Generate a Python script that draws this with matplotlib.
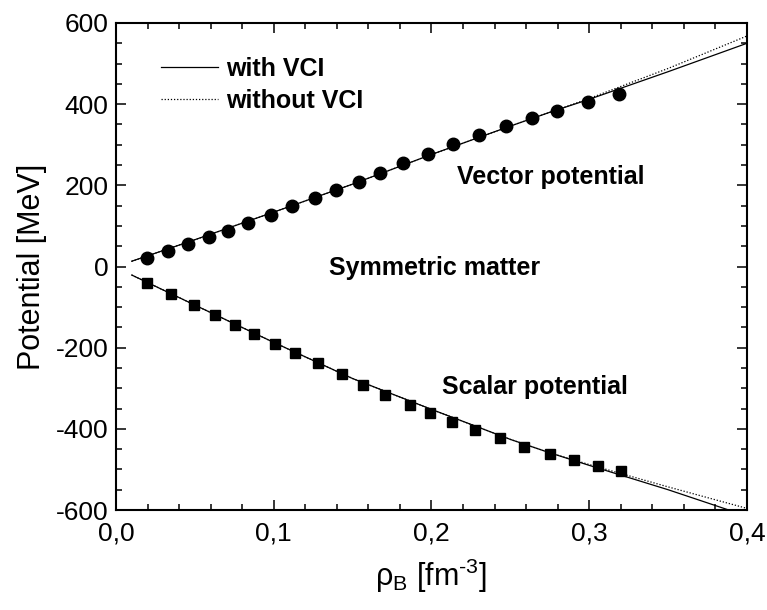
import matplotlib
matplotlib.use('Agg')
import matplotlib.pyplot as plt
from matplotlib.ticker import MultipleLocator, FuncFormatter

plt.rcParams['font.family'] = ['Liberation Sans', 'DejaVu Sans']
plt.rcParams['mathtext.fontset'] = 'custom'
plt.rcParams['mathtext.rm'] = 'Liberation Sans'
plt.rcParams['mathtext.it'] = 'Liberation Sans'
plt.rcParams['mathtext.default'] = 'regular'
plt.rcParams['axes.unicode_minus'] = False

# Data
# Dirac-Brueckner points
rho_vec = [0.0197, 0.033, 0.0457, 0.059, 0.071, 0.0837, 0.098, 0.1116, 0.126, 0.1395,
           0.154, 0.1674, 0.182, 0.198, 0.2137, 0.230, 0.247, 0.264, 0.2797, 0.299, 0.319]
vec_pts = [21, 38, 55, 73, 87, 107, 127, 149, 169, 188,
           208, 230, 255, 277, 302, 324, 346, 366, 383, 405, 425]

rho_sca = [0.0197, 0.0349, 0.0495, 0.0628, 0.0755, 0.0875, 0.1008, 0.1135, 0.128, 0.1433, 0.1566,
           0.1706, 0.1864, 0.199, 0.213, 0.2276, 0.2435, 0.2587, 0.2752, 0.2904, 0.3056, 0.320]
sca_pts = [-41, -68, -95, -120, -144, -166, -191, -213, -238, -265, -292,
           -316, -341, -361, -383, -403, -422, -445, -462, -476, -491, -504]

# model curves
rho_line = [0.01, 0.05, 0.1, 0.15, 0.2, 0.25, 0.275, 0.3, 0.35, 0.4]
vec_vci = [13, 66, 134, 203, 276, 346, 380, 412, 480, 550]
vec_novci = [13, 66, 134, 203, 276, 346, 380, 414, 488, 568]
sca_vci = [-21, -95, -187, -276, -352, -426, -459, -490, -550, -615]
sca_novci = [-21, -95, -187, -276, -352, -426, -459, -488, -543, -596]

fig = plt.figure(figsize=(7.67, 6.10), dpi=100)
ax = fig.add_axes([0.1512, 0.1639, 0.8227, 0.7984])

l1, = ax.plot(rho_line, vec_vci, color='black', lw=0.9, label='with VCI')
l2, = ax.plot(rho_line, vec_novci, color='black', lw=0.9, ls=(0, (1, 1.5)), label='without VCI')
ax.plot(rho_line, sca_vci, color='black', lw=0.9)
ax.plot(rho_line, sca_novci, color='black', lw=0.9, ls=(0, (1, 1.5)))

ax.plot(rho_vec, vec_pts, 'o', color='black', ms=9, ls='none')
ax.plot(rho_sca, sca_pts, 's', color='black', ms=7.6, ls='none')

ax.text(0.2163, 220, 'Vector potential', fontsize=18, fontweight='bold', va='center', ha='left')
ax.text(0.135, -4, 'Symmetric matter', fontsize=18, fontweight='bold', va='center', ha='left')
ax.text(0.2067, -297, 'Scalar potential', fontsize=18, fontweight='bold', va='center', ha='left')

ax.set_xlim(0, 0.4)
ax.set_ylim(-600, 600)
ax.xaxis.set_major_locator(MultipleLocator(0.1))
ax.xaxis.set_minor_locator(MultipleLocator(0.02))
ax.yaxis.set_major_locator(MultipleLocator(200))
ax.yaxis.set_minor_locator(MultipleLocator(50))
ax.xaxis.set_major_formatter(FuncFormatter(lambda v, p: f'{v:.1f}'.replace('.', ',')))

ax.tick_params(which='both', direction='in', top=True, right=True, labelsize=19, width=1.1)
ax.tick_params(which='major', length=7.2)
ax.tick_params(which='minor', length=4.3)
ax.tick_params(axis='y', which='major', pad=5.5)
ax.tick_params(axis='x', which='major', pad=8)
for s in ax.spines.values():
    s.set_linewidth(1.5)

ax.set_xlabel(r'$\rho_B$ [fm$^{\text{-3}}$]', fontsize=22)
ax.set_ylabel('Potential [MeV]', fontsize=22)
ax.xaxis.set_label_coords(0.5, -0.095)
ax.yaxis.set_label_coords(-0.11, 0.5)

leg = ax.legend(handles=[l1, l2], loc='upper left', bbox_to_anchor=(0.071, 0.93),
                frameon=False, handlelength=2.3, handletextpad=0.3, labelspacing=0.3,
                borderpad=0, borderaxespad=0,
                prop={'size': 18, 'weight': 'bold'})

fig.savefig('out.png', dpi=100)
